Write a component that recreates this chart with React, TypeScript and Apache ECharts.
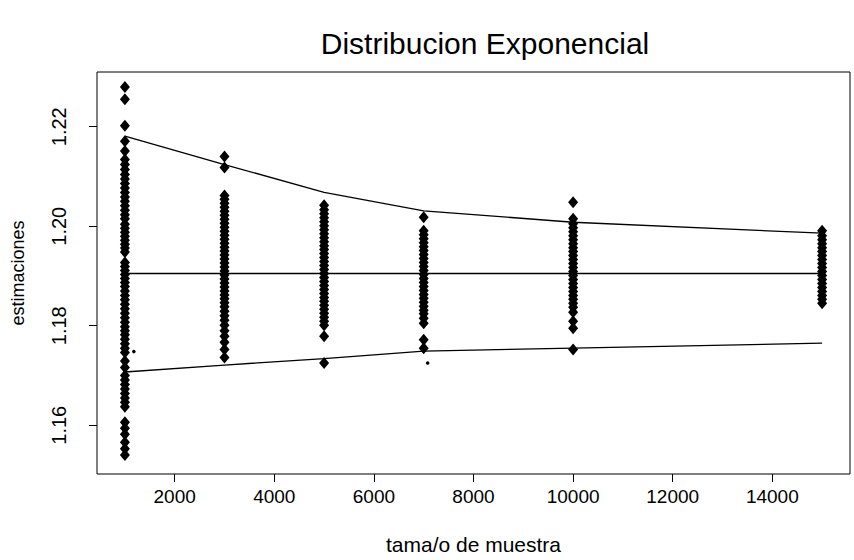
import React, { useEffect, useRef } from "react";
import * as echarts from "echarts";

const titleText = "Distribucion Exponencial";
const xName = "tama/o de muestra";
const yName = "estimaciones";

const xTicks = [2000, 4000, 6000, 8000, 10000, 12000, 14000];
const yTicks = [1.16, 1.18, 1.2, 1.22];
const yTickLabels = ["1.16", "1.18", "1.20", "1.22"];

const sampleSizes = [1000, 3000, 5000, 7000, 10000, 15000];

const est1000 = [
  1.228, 1.2255, 1.2202, 1.2171, 1.2151, 1.2134, 1.2124, 1.2114, 1.2104, 1.2095,
  1.2086, 1.2077, 1.2068, 1.2059, 1.205, 1.2041, 1.2032, 1.2023, 1.2015, 1.2004,
  1.1996, 1.1988, 1.198, 1.1972, 1.1964, 1.1956, 1.1948, 1.1927, 1.1919, 1.1911,
  1.1903, 1.1895, 1.1887, 1.1879, 1.187, 1.1861, 1.1852, 1.1843, 1.1834, 1.1825,
  1.1816, 1.1807, 1.1798, 1.179, 1.1782, 1.1773, 1.1764, 1.1755, 1.1746, 1.1729,
  1.1716, 1.17, 1.1691, 1.1682, 1.1673, 1.1664, 1.1655, 1.1646, 1.1637, 1.1606,
  1.1594, 1.1582, 1.1566, 1.1553, 1.154,
];
const est3000 = [
  1.214, 1.2118, 1.2062, 1.2054, 1.2046, 1.2038, 1.203, 1.2022, 1.2014, 1.2006,
  1.1998, 1.199, 1.1982, 1.1974, 1.1966, 1.1958, 1.195, 1.1942, 1.1934, 1.1926,
  1.1918, 1.191, 1.1902, 1.1894, 1.1886, 1.1878, 1.187, 1.1862, 1.1854, 1.1846,
  1.1838, 1.1829, 1.182, 1.1811, 1.1801, 1.179, 1.1779, 1.1767, 1.1752, 1.1736,
];
const est5000 = [
  1.2042, 1.2033, 1.2025, 1.2017, 1.2009, 1.2001, 1.1993, 1.1985, 1.1977, 1.1969,
  1.1961, 1.1953, 1.1945, 1.1937, 1.1929, 1.1921, 1.1913, 1.1905, 1.1897, 1.1889,
  1.1881, 1.1873, 1.1865, 1.1857, 1.1849, 1.1841, 1.1833, 1.1825, 1.1817, 1.1809,
  1.1801, 1.1779, 1.1725,
];
const est7000 = [
  1.2018, 1.1991, 1.1983, 1.1975, 1.1967, 1.1959, 1.1951, 1.1943, 1.1935, 1.1927,
  1.1919, 1.1911, 1.1903, 1.1895, 1.1887, 1.1879, 1.1871, 1.1863, 1.1855, 1.1847,
  1.1839, 1.1831, 1.1824, 1.1815, 1.1805, 1.1772, 1.1755,
];
const est10000 = [
  1.2048, 1.2015, 1.2005, 1.1997, 1.1989, 1.1981, 1.1973, 1.1965, 1.1957, 1.1949,
  1.1941, 1.1933, 1.1925, 1.1917, 1.1909, 1.1901, 1.1893, 1.1885, 1.1877, 1.1869,
  1.1861, 1.1853, 1.1845, 1.1837, 1.1827, 1.1809, 1.1795, 1.1752,
];
const est15000 = [
  1.1991, 1.1981, 1.1973, 1.1965, 1.1957, 1.1949, 1.1941, 1.1933, 1.1925, 1.1917,
  1.1909, 1.1901, 1.1893, 1.1885, 1.1877, 1.1869, 1.1861, 1.1853, 1.1845,
];
const estimates = [est1000, est3000, est5000, est7000, est10000, est15000];

const strayX = [1180, 7080];
const strayY = [1.1748, 1.1725];

const upperBand = [1.2181, 1.2124, 1.2068, 1.2031, 1.2008, 1.1986];
const lowerBand = [1.1707, 1.1721, 1.1734, 1.1749, 1.1755, 1.1765];
const trueValue = 1.1905;

const FONT = "'Liberation Sans', Arial, Helvetica, sans-serif";

export default function App() {
  const ref = useRef<HTMLDivElement>(null);
  useEffect(() => {
    if (!ref.current) return;
    const chart = echarts.init(ref.current, null, { renderer: "svg" });
    const points: number[][] = [];
    sampleSizes.forEach((n, i) => {
      estimates[i].forEach((v) => points.push([n, v]));
    });
    const stray = strayX.map((x, i) => [x, strayY[i]]);
    const lineStyle = { color: "#000", width: 1.3 };
    chart.setOption({
      animation: false,
      backgroundColor: "#fff",
      title: {
        text: titleText,
        left: 480,
        top: 23,
        textAlign: "center",
        textStyle: {
          fontFamily: FONT,
          fontSize: 30,
          fontWeight: "normal",
          color: "#000",
        },
      },
      grid: {
        left: 97,
        top: 72,
        right: 4,
        bottom: 83,
        show: true,
        borderColor: "#000",
        borderWidth: 1,
        backgroundColor: "transparent",
      },
      xAxis: {
        type: "value",
        min: 440,
        max: 15560,
        name: xName,
        nameLocation: "middle",
        nameGap: 60,
        nameTextStyle: { fontFamily: FONT, fontSize: 21, color: "#000" },
        axisLine: { show: false },
        splitLine: { show: false },
        axisTick: {
          show: true,
          length: 8,
          customValues: xTicks,
          lineStyle: { color: "#000", width: 1 },
        },
        axisLabel: {
          customValues: xTicks,
          margin: 13,
          fontFamily: FONT,
          fontSize: 19,
          color: "#000",
          formatter: (v: number) => String(Math.round(v)),
        },
      },
      yAxis: {
        type: "value",
        min: 1.1502,
        max: 1.231,
        name: yName,
        nameLocation: "middle",
        nameRotate: 90,
        nameGap: 70,
        nameTextStyle: { fontFamily: FONT, fontSize: 18, color: "#000" },
        axisLine: { show: false },
        splitLine: { show: false },
        axisTick: {
          show: true,
          length: 8,
          customValues: yTicks,
          lineStyle: { color: "#000", width: 1 },
        },
        axisLabel: {
          customValues: yTicks,
          rotate: 90,
          margin: 28,
          fontFamily: FONT,
          fontSize: 20,
          color: "#000",
          formatter: (v: number) => {
            const idx = yTicks.findIndex((t) => Math.abs(t - v) < 1e-9);
            return idx >= 0 ? yTickLabels[idx] : "";
          },
        },
      },
      series: [
        {
          type: "line",
          data: sampleSizes.map((n, i) => [n, upperBand[i]]),
          symbol: "none",
          lineStyle,
          z: 2,
        },
        {
          type: "line",
          data: [
            [sampleSizes[0], trueValue],
            [sampleSizes[sampleSizes.length - 1], trueValue],
          ],
          symbol: "none",
          lineStyle,
          z: 2,
        },
        {
          type: "line",
          data: sampleSizes.map((n, i) => [n, lowerBand[i]]),
          symbol: "none",
          lineStyle,
          z: 2,
        },
        {
          type: "scatter",
          data: points,
          symbol: "diamond",
          symbolSize: [10, 12],
          itemStyle: { color: "#000", opacity: 1 },
          z: 3,
        },
        {
          type: "scatter",
          data: stray,
          symbol: "circle",
          symbolSize: 3.5,
          itemStyle: { color: "#000", opacity: 1 },
          z: 3,
        },
      ],
    });
    return () => chart.dispose();
  }, []);
  return (
    <div
      ref={ref}
      style={{ position: "fixed", left: 0, top: 0, width: 854, height: 560 }}
    />
  );
}
